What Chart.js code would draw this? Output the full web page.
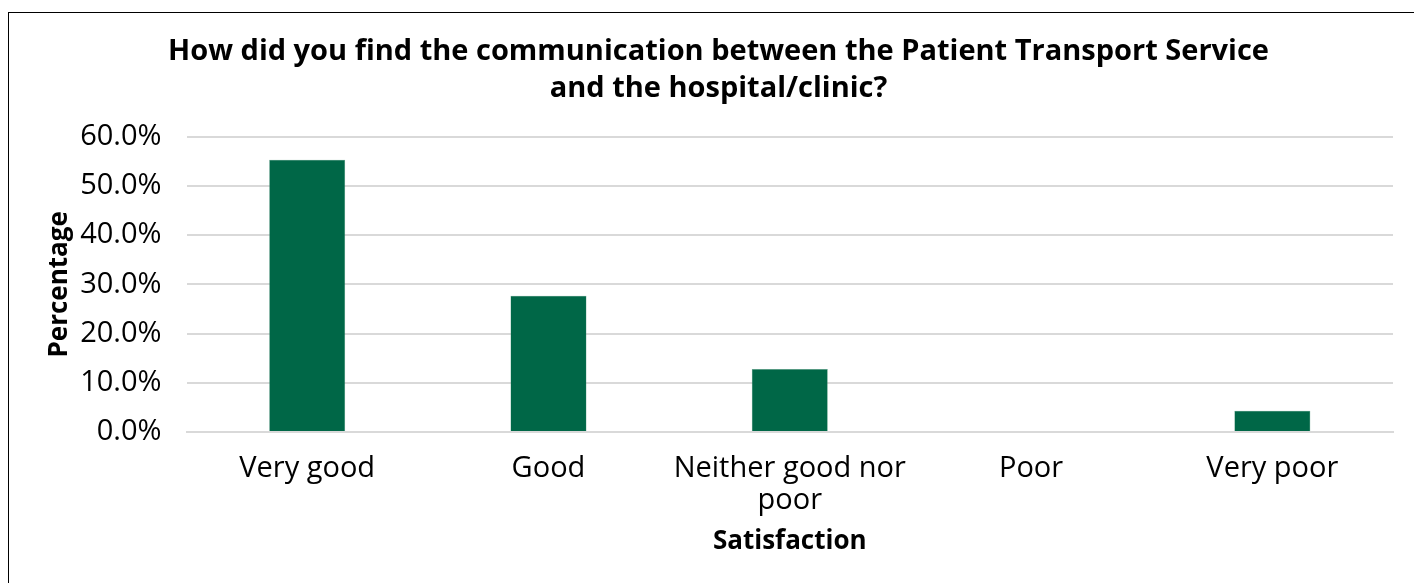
<!DOCTYPE html>
<html>
<head>
<meta charset="utf-8">
<script src="https://cdn.jsdelivr.net/npm/chart.js@4"></script>
<style>
  html, body { margin: 0; padding: 0; background: #fff; overflow: hidden; }
  #frame { position: absolute; left: 8px; top: 12px; width: 1420px; height: 600px; border: 1.5px solid #000; box-sizing: border-box; }
  #wrap { position: absolute; left: 0; top: 0; width: 1414px; height: 583px; }
</style>
</head>
<body>
<div id="frame"></div>
<div id="wrap"><canvas id="c" width="1414" height="583"></canvas></div>
<script>
const categories = ["Very good", "Good", ["Neither good nor", "poor"], "Poor", "Very poor"];
const percentages = [55.3, 27.7, 12.8, 0, 4.3];
const yTicks = [0, 10, 20, 30, 40, 50, 60];

const FONT = "'Open Sans', 'Noto Sans', sans-serif";

new Chart(document.getElementById('c'), {
  type: 'bar',
  data: {
    labels: categories,
    datasets: [{
      data: percentages,
      backgroundColor: '#006747',
      borderColor: '#5f9f86',
      borderWidth: 0.5,
      categoryPercentage: 1,
      barPercentage: 0.315
    }]
  },
  options: {
    responsive: false,
    animation: false,
    devicePixelRatio: 1,
    layout: { padding: { top: 26, left: 44, right: 21, bottom: 26 } },
    plugins: {
      legend: { display: false },
      tooltip: { enabled: false },
      title: {
        display: true,
        text: ["How did you find the communication between the Patient Transport Service", "and the hospital/clinic?"],
        color: '#000',
        font: { family: FONT, size: 29, weight: 'bold', lineHeight: 1.28 },
        padding: { top: 7.5, bottom: 29 }
      }
    },
    scales: {
      y: {
        min: 0, max: 60,
        afterBuildTicks: (axis) => { axis.ticks = yTicks.map(v => ({ value: v })); },
        ticks: {
          color: '#000',
          font: { family: FONT, size: 29 },
          padding: 25,
          callback: (v) => v.toFixed(1) + '%'
        },
        grid: { color: '#d9d9d9', lineWidth: 2, drawTicks: false },
        border: { display: false },
        title: {
          display: true, text: 'Percentage', color: '#000',
          font: { family: FONT, size: 26, weight: 'bold' }, padding: { top: 0, bottom: -20 }
        }
      },
      x: {
        ticks: {
          color: '#000',
          font: { family: FONT, size: 29, lineHeight: 1.1 },
          padding: 21,
          maxRotation: 0, autoSkip: false
        },
        grid: { display: false, drawTicks: false },
        border: { color: '#d9d9d9', width: 2 },
        title: {
          display: true, text: 'Satisfaction', color: '#000',
          font: { family: FONT, size: 26, weight: 'bold' }, padding: { top: -12, bottom: 0 }
        }
      }
    }
  }
});
</script>
</body>
</html>
